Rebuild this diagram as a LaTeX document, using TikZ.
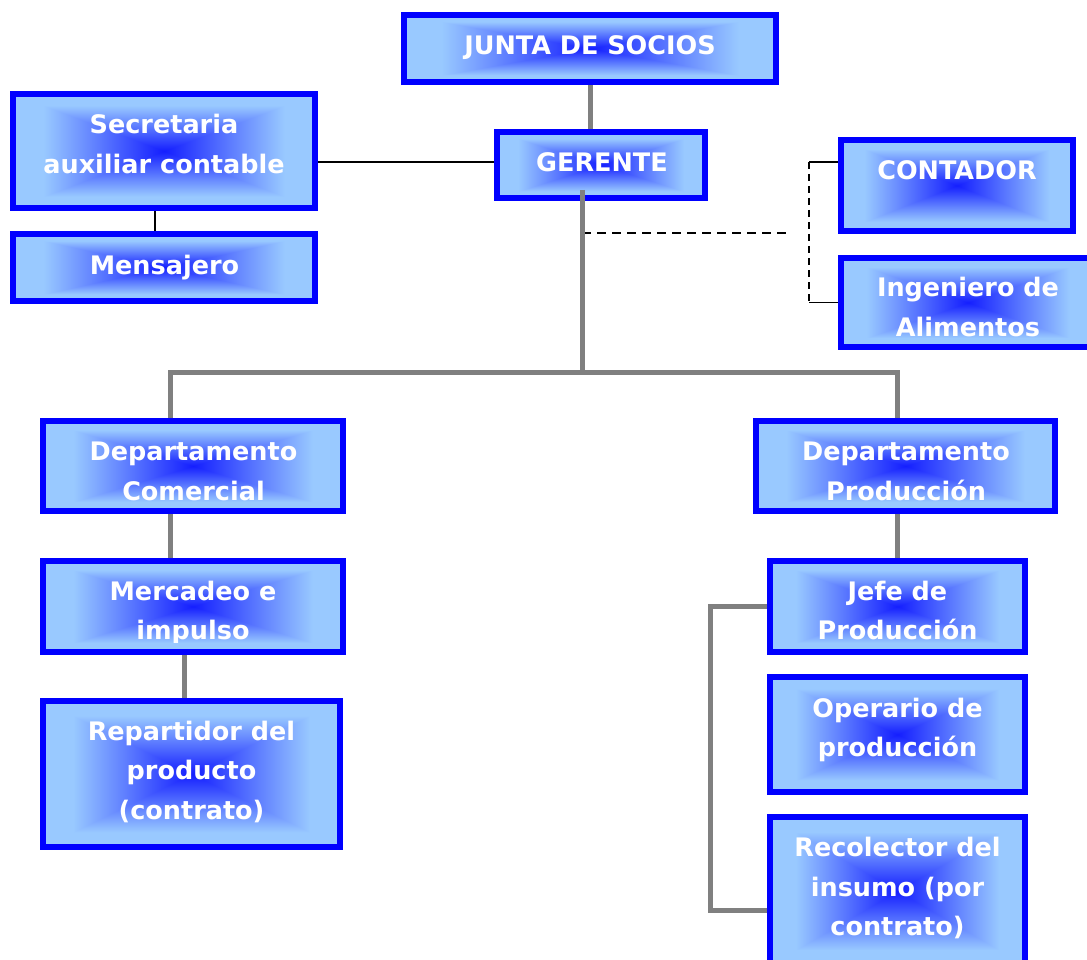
\documentclass[tikz,border=0pt]{standalone}
\usepackage{fontspec}
\newfontfamily\boxfont{DejaVu Sans}
\usetikzlibrary{calc}
\pgfdeclarelayer{background}
\pgfsetlayers{background,main}

% rectangular (pyramid) glow: deep blue centre fading to light blue edges
\pgfdeclarefunctionalshading{boxglow}{\pgfpoint{-50bp}{-50bp}}{\pgfpoint{50bp}{50bp}}{}{
abs exch abs 2 copy lt {exch} if pop
20 div dup 1 gt {pop 1} if
dup 0.52 mul 0.08 add exch 0.67 mul 0.12 add 1
}

\definecolor{boxblue}{RGB}{0,0,255}
\definecolor{linkgray}{RGB}{128,128,128}
% uniform line height so text blocks centre on their cap heights
\newcommand\lstrut{\rule[-8pt]{0pt}{34.6pt}}

\begin{document}
\begin{tikzpicture}[x=1pt,y=-1pt,
  box/.style={rectangle, draw=boxblue, line width=6pt, shading=boxglow, inner sep=0pt},
  lbl/.style={text=white, font=\boxfont\bfseries\fontsize{25.5pt}{39.5pt}\selectfont, align=center, inner sep=0pt},
  link/.style={draw=linkgray, line width=5pt},
  thinlink/.style={draw=black, line width=1.8pt},
  dashlink/.style={thinlink, dash pattern=on 9pt off 6pt}]
\clip (0,0) rectangle (1087,960);

% boxes
\node[box, minimum width=372pt, minimum height=67pt]  (junta)     at (590,48.5)  {};
\node[box, minimum width=302pt, minimum height=114pt] (secre)     at (164,151)   {};
\node[box, minimum width=302pt, minimum height=67pt]  (mens)      at (164,267.5) {};
\node[box, minimum width=208pt, minimum height=66pt]  (gerente)   at (601,165)   {};
\node[box, minimum width=232pt, minimum height=91pt]  (contador)  at (957,185.5) {};
\node[box, minimum width=254pt, minimum height=89pt]  (ingeniero) at (968,302.5) {};
\node[box, minimum width=300pt, minimum height=90pt]  (dcom)      at (193,466)   {};
\node[box, minimum width=300pt, minimum height=91pt]  (merc)      at (193,606.5) {};
\node[box, minimum width=297pt, minimum height=146pt] (repart)    at (191.5,774) {};
\node[box, minimum width=299pt, minimum height=90pt]  (dprod)     at (905.5,466) {};
\node[box, minimum width=255pt, minimum height=91pt]  (jefe)      at (897.5,606.5) {};
\node[box, minimum width=255pt, minimum height=115pt] (oper)      at (897.5,734.5) {};
\node[box, minimum width=255pt, minimum height=148pt] (recol)     at (897.5,891) {};

% labels
\node[lbl] (junta-t)     at (590,45)    {\lstrut JUNTA DE SOCIOS};
\node[lbl] (secre-t)     at (164,144)   {\lstrut Secretaria\\\lstrut auxiliar contable};
\node[lbl] (mens-t)      at (164.5,265) {\lstrut Mensajero};
\node[lbl] (gerente-t)   at (602,162)   {\lstrut GERENTE};
\node[lbl] (contador-t)  at (957,170)   {\lstrut CONTADOR};
\node[lbl] (ingeniero-t) at (968,307)   {\lstrut Ingeniero de\\\lstrut Alimentos};
\node[lbl] (dcom-t)      at (193.5,471) {\lstrut Departamento\\\lstrut Comercial};
\begin{scope}
  \clip ([xshift=3pt]merc.north west) rectangle ([yshift=13pt]merc.south east);
  \node[lbl] (merc-t)    at (193,610.5) {\lstrut Mercadeo e\\\lstrut impulso};
\end{scope}
\node[lbl] (repart-t)    at (191.5,770.5) {\lstrut Repartidor del\\\lstrut producto\\\lstrut (contrato)};
\node[lbl] (dprod-t)     at (906,471)   {\lstrut Departamento\\\lstrut Producción};
\node[lbl] (jefe-t)      at (897.5,610.5) {\lstrut Jefe de\\\lstrut Producción};
\node[lbl] (oper-t)      at (897.5,727.5) {\lstrut Operario de\\\lstrut producción};
\node[lbl] (recol-t)     at (897.5,887) {\lstrut Recolector del\\\lstrut insumo (por\\\lstrut contrato)};

% connectors, drawn beneath the box borders
\coordinate (bus) at (582,372);
\coordinate (dashend) at (790,233);
\begin{pgfonlayer}{background}
  \fill[white] (0,0) rectangle (1087,960);
  \draw[link] (junta.south) -- (junta.south |- gerente.north);
  \draw[thinlink] ([yshift=3pt]gerente.west) -- ([yshift=3pt]gerente.west -| secre.east);
  \draw[thinlink] ([xshift=-9pt]secre.south) -- ([xshift=-9pt]mens.north);
  \draw[link] ([xshift=-23pt]dcom.north) |- (bus) -| ([xshift=-8.5pt]dprod.north);
  \draw[link] ([xshift=-23pt]dcom.south) -- ([xshift=-23pt]merc.north);
  \draw[link] ([xshift=-9pt]merc.south) -- ([xshift=-9pt]merc.south |- repart.north);
  \draw[link] (jefe.north |- dprod.south) -- (jefe.north);
  \draw[link] (jefe.west) -- ++(-57,0) |- ([yshift=-19pt]recol.west);
  \draw[thinlink] ([yshift=23.5pt]contador.west) -- ++(-29,0) coordinate (bka);
  \draw[thinlink] (ingeniero.west) -- ++(-29,0) coordinate (bkb);
  \draw[dashlink, dash pattern=on 7pt off 5pt] (bka) -- (bkb);
  \draw[dashlink] (bus |- dashend) -- (dashend);
\end{pgfonlayer}
\draw[link] ([xshift=-19pt,yshift=11pt]gerente.south) -- (bus);
\end{tikzpicture}
\end{document}
